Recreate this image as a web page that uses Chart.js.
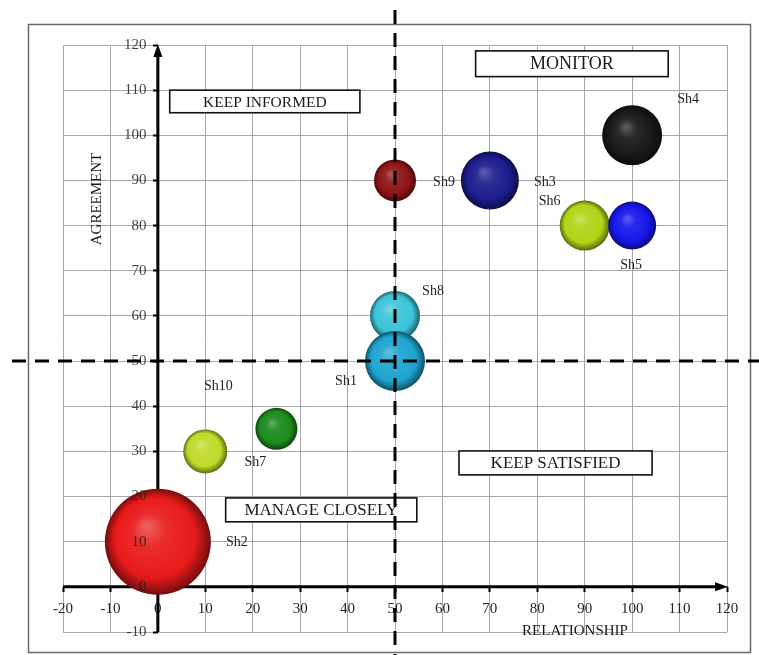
<!DOCTYPE html>
<html>
<head>
<meta charset="utf-8">
<script src="https://cdn.jsdelivr.net/npm/chart.js@4/dist/chart.umd.min.js"></script>
<style>
  html, body { margin: 0; padding: 0; background: #ffffff; }
  canvas { display: block; }
</style>
</head>
<body>
<canvas id="matrix" width="759" height="655"></canvas>
<script>
// Stakeholder matrix: relationship vs agreement, bubble radius = influence
const stakeholders = ['Sh8', 'Sh1', 'Sh9', 'Sh3', 'Sh4', 'Sh6', 'Sh5', 'Sh10', 'Sh7', 'Sh2'];
const relationship = [50, 50, 50, 70, 100, 90, 100, 25, 10, 0];
const agreement    = [60, 50, 90, 90, 100, 80, 80, 35, 30, 10];
const influence    = [25, 30, 21, 29, 30, 25, 24, 21, 22, 53];
const sphereColors = ['#3cc4d8', '#1ea4d0', '#8e1414', '#1c1c8c', '#181818', '#b2d418', '#1616ea', '#1c8a1c', '#c0da28', '#e81a1a'];

// Axis ranges and tick spacing
const xRange = [-20, 120];
const yRange = [-10, 120];
const tickStep = 10;
const splitValue = 50;   // quadrant split on both axes

// Quadrant captions
const quadrantNames = ['KEEP INFORMED', 'MONITOR', 'KEEP SATISFIED', 'MANAGE CLOSELY'];

const FONT = '"Liberation Serif", "Times New Roman", serif';

// Caption boxes, in data units [x1, x2, yTop, yBottom]
const captionBoxes = [
  { rect: [2.5, 42.6, 110, 105], size: 15.5 },
  { rect: [67, 107.6, 118.7, 113], size: 18 },
  { rect: [63.5, 104.2, 30.1, 24.8], size: 17 },
  { rect: [14.3, 54.6, 19.7, 14.4], size: 17 }
];

// Where each stakeholder name sits relative to its bubble centre (px)
const labelOffsets = {
  Sh1: [-49, 20], Sh2: [79, 1], Sh3: [55, 2], Sh4: [56, -36], Sh5: [-1, 40],
  Sh6: [-35, -24], Sh7: [50, 11], Sh8: [38, -25], Sh9: [49, 2], Sh10: [-58, -42]
};

function mix(hex, target, t) {
  const a = parseInt(hex.slice(1), 16);
  const r = (a >> 16) & 255, g = (a >> 8) & 255, b = a & 255;
  const m = (c) => Math.round(c + (target - c) * t);
  return 'rgb(' + m(r) + ',' + m(g) + ',' + m(b) + ')';
}

function sphereFill(ctx) {
  const i = ctx.dataIndex;
  const base = sphereColors[i];
  const chart = ctx.chart;
  if (i === undefined || !chart.chartArea || !ctx.raw) return base;
  const px = chart.scales.x.getPixelForValue(ctx.raw.x);
  const py = chart.scales.y.getPixelForValue(ctx.raw.y);
  const r = ctx.raw.r;
  const g = chart.ctx.createRadialGradient(px - r * 0.22, py - r * 0.3, r * 0.02, px, py, r);
  g.addColorStop(0, mix(base, 255, 0.3));
  g.addColorStop(0.3, mix(base, 255, 0.08));
  g.addColorStop(0.75, base);
  g.addColorStop(1, mix(base, 0, 0.5));
  return g;
}

const points = stakeholders.map((name, i) => ({ x: relationship[i], y: agreement[i], r: influence[i] }));

// Outer frame
const framePlugin = {
  id: 'frame',
  beforeDraw(chart) {
    const c = chart.ctx;
    c.save();
    c.strokeStyle = '#6a6a6a';
    c.lineWidth = 1.5;
    c.strokeRect(28.5, 24.5, 722, 628);
    c.restore();
  }
};

// Caption boxes and the arrowed axes, beneath the bubbles
const underlayPlugin = {
  id: 'underlay',
  beforeDatasetsDraw(chart) {
    const c = chart.ctx, xs = chart.scales.x, ys = chart.scales.y;
    c.save();
    captionBoxes.forEach((b, k) => {
      const x1 = xs.getPixelForValue(b.rect[0]), x2 = xs.getPixelForValue(b.rect[1]);
      const y1 = ys.getPixelForValue(b.rect[2]), y2 = ys.getPixelForValue(b.rect[3]);
      c.fillStyle = '#ffffff';
      c.fillRect(x1, y1, x2 - x1, y2 - y1);
      c.strokeStyle = '#111';
      c.lineWidth = 1.6;
      c.strokeRect(x1, y1, x2 - x1, y2 - y1);
      c.fillStyle = '#1a1a1a';
      c.font = b.size + 'px ' + FONT;
      c.textAlign = 'center';
      c.textBaseline = 'middle';
      c.fillText(quadrantNames[k], (x1 + x2) / 2, (y1 + y2) / 2 + 1);
    });
    // axes through the origin
    const ox = xs.getPixelForValue(0), oy = ys.getPixelForValue(0);
    const top = ys.getPixelForValue(yRange[1]), bottom = ys.getPixelForValue(yRange[0]);
    const left = xs.getPixelForValue(xRange[0]), right = xs.getPixelForValue(xRange[1]);
    c.strokeStyle = '#000';
    c.fillStyle = '#000';
    c.lineWidth = 3;
    c.beginPath();
    c.moveTo(ox, bottom); c.lineTo(ox, top + 8);
    c.moveTo(left, oy); c.lineTo(right - 8, oy);
    c.stroke();
    c.beginPath();
    c.moveTo(ox, top - 1); c.lineTo(ox - 4.5, top + 12); c.lineTo(ox + 4.5, top + 12); c.closePath();
    c.fill();
    c.beginPath();
    c.moveTo(right + 1, oy); c.lineTo(right - 12, oy - 4.5); c.lineTo(right - 12, oy + 4.5); c.closePath();
    c.fill();
    c.restore();
  }
};

// Stakeholder names, axis titles and the dashed quadrant split
const overlayPlugin = {
  id: 'overlay',
  afterDraw(chart) {
    const c = chart.ctx, xs = chart.scales.x, ys = chart.scales.y;
    const meta = chart.getDatasetMeta(0);
    c.save();
    c.fillStyle = '#222';
    c.font = '14px ' + FONT;
    c.textAlign = 'center';
    c.textBaseline = 'middle';
    meta.data.forEach((el, i) => {
      const off = labelOffsets[stakeholders[i]];
      c.fillText(stakeholders[i], el.x + off[0], el.y + off[1]);
    });
    // axis titles
    c.fillStyle = '#1a1a1a';
    c.font = '15px ' + FONT;
    c.fillText('RELATIONSHIP', 575, 631);
    c.save();
    c.translate(97, 199);
    c.rotate(-Math.PI / 2);
    c.fillText('AGREEMENT', 0, 0);
    c.restore();
    // dashed split lines
    const sx = xs.getPixelForValue(splitValue), sy = ys.getPixelForValue(splitValue);
    c.strokeStyle = '#000';
    c.lineWidth = 3;
    c.setLineDash([14, 9]);
    c.beginPath();
    c.moveTo(sx, 10); c.lineTo(sx, 655);
    c.moveTo(12, sy); c.lineTo(759, sy);
    c.stroke();
    c.restore();
  }
};

// Axes sit inside the plot, so they reserve no room of their own
const noRoom = (s) => {
  s.width = s.isHorizontal() ? s.width : 0;
  s.height = s.isHorizontal() ? 0 : s.height;
  s.paddingLeft = 0; s.paddingRight = 0; s.paddingTop = 0; s.paddingBottom = 0;
};

new Chart(document.getElementById('matrix'), {
  type: 'bubble',
  data: {
    datasets: [{
      label: 'Stakeholders',
      data: points,
      backgroundColor: sphereFill,
      borderWidth: 0,
      hoverBorderWidth: 0
    }]
  },
  options: {
    responsive: false,
    animation: false,
    events: [],
    layout: { autoPadding: false, padding: { left: 63, top: 45, right: 32, bottom: 23 } },
    plugins: { legend: { display: false }, tooltip: { enabled: false } },
    scales: {
      x: {
        type: 'linear',
        min: xRange[0], max: xRange[1],
        position: { y: 0 },
        afterFit: noRoom,
        border: { display: false },
        grid: { color: '#a8a8a8', lineWidth: 1, drawTicks: true, tickLength: 5, tickColor: '#000', tickWidth: 2 },
        ticks: { stepSize: tickStep, padding: 8, color: '#262626', font: { family: FONT, size: 15 }, maxRotation: 0 }
      },
      // value labels, set just left of the vertical axis and painted above the bubbles
      y: {
        type: 'linear',
        min: yRange[0], max: yRange[1],
        position: { x: -2.4 },
        afterFit: noRoom,
        border: { display: false },
        grid: { display: false },
        ticks: { z: 1, stepSize: tickStep, color: 'rgba(30,30,30,0.85)', font: { family: FONT, size: 15 } }
      },
      // horizontal grid lines and the tick marks on the vertical axis
      yGrid: {
        type: 'linear',
        min: yRange[0], max: yRange[1],
        position: { x: 0 },
        afterFit: noRoom,
        border: { display: false },
        grid: { color: '#a8a8a8', lineWidth: 1, drawTicks: true, tickLength: 5, tickColor: '#000', tickWidth: 2 },
        ticks: { stepSize: tickStep, display: false }
      }
    }
  },
  plugins: [framePlugin, underlayPlugin, overlayPlugin]
});
</script>
</body>
</html>
